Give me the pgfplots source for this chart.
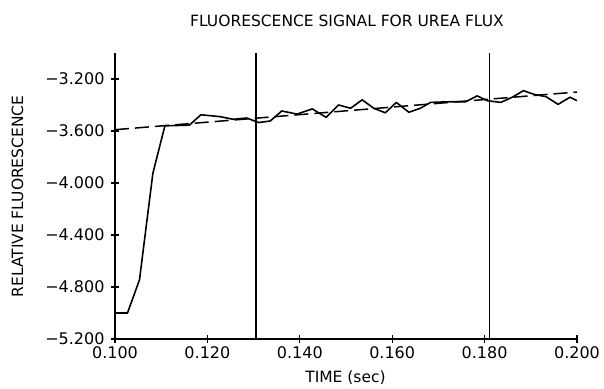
\documentclass[border=0pt]{standalone}
\usepackage{fontspec}
\setmainfont{DejaVu Sans}
\usepackage{pgfplots}
\pgfplotsset{compat=1.18}
\begin{document}
\begin{tikzpicture}
\path[use as bounding box] (-115bp,-50bp) rectangle (489bp,339bp);
\begin{axis}[
  at={(0,0)}, anchor=south west, scale only axis,
  width=462bp, height=286bp,
  xmin=0.1, xmax=0.2, ymin=-5.2, ymax=-3.0,
  axis lines=left, axis line style={-, line width=1.3bp},
  xtick={0.1,0.12,0.14,0.16,0.18,0.2},
  xticklabels={0.100,0.120,0.140,0.160,0.180,0.200},
  ytick={-5.2,-4.8,-4.4,-4.0,-3.6,-3.2},
  yticklabels={−5.200,−4.800,−4.400,−4.000,−3.600,−3.200},
  tick align=center, major tick length=8bp,
  tick style={line width=1.2bp, black},
  ticklabel style={font=\fontsize{16bp}{19bp}\selectfont},
  yticklabel style={xshift=-3bp},
]
\addplot[black, line width=1.4bp] coordinates {(0.1305,-5.2) (0.1305,-3.0)};
\addplot[black, line width=1.4bp] coordinates {(0.181,-5.2) (0.181,-3.0)};
\addplot[black, line width=1.5bp, dash pattern=on 14bp off 6bp] coordinates {(0.1,-3.59) (0.2,-3.30)};
\addplot[black, line width=1.6bp, line join=round] coordinates {
(0.1000,-5.00) (0.1027,-5.00) (0.1053,-4.745) (0.1082,-3.925) (0.1108,-3.56)
(0.1161,-3.555) (0.1186,-3.475) (0.1228,-3.49) (0.1256,-3.51) (0.1285,-3.50)
(0.1311,-3.535) (0.1336,-3.523) (0.1361,-3.446) (0.1394,-3.47) (0.1427,-3.43)
(0.1457,-3.495) (0.1484,-3.40) (0.1510,-3.425) (0.1535,-3.36) (0.1560,-3.425)
(0.1585,-3.46) (0.1609,-3.38) (0.1636,-3.456) (0.1661,-3.425) (0.1683,-3.38)
(0.1726,-3.375) (0.1759,-3.375) (0.1784,-3.33) (0.1806,-3.367) (0.1835,-3.38)
(0.1860,-3.34) (0.1884,-3.29) (0.1907,-3.318) (0.1933,-3.336) (0.1959,-3.395)
(0.1985,-3.34) (0.2000,-3.367)};
\end{axis}
\node[font=\fontsize{15.5bp}{18bp}\selectfont] at (232bp,318bp) {FLUORESCENCE SIGNAL FOR UREA FLUX};
\node[font=\fontsize{15.5bp}{18bp}\selectfont, rotate=90] at (-97.5bp,142.5bp) {RELATIVE FLUORESCENCE};
\node[font=\fontsize{15.5bp}{18bp}\selectfont] at (230.5bp,-39bp) {TIME (sec)};
\end{tikzpicture}
\end{document}
